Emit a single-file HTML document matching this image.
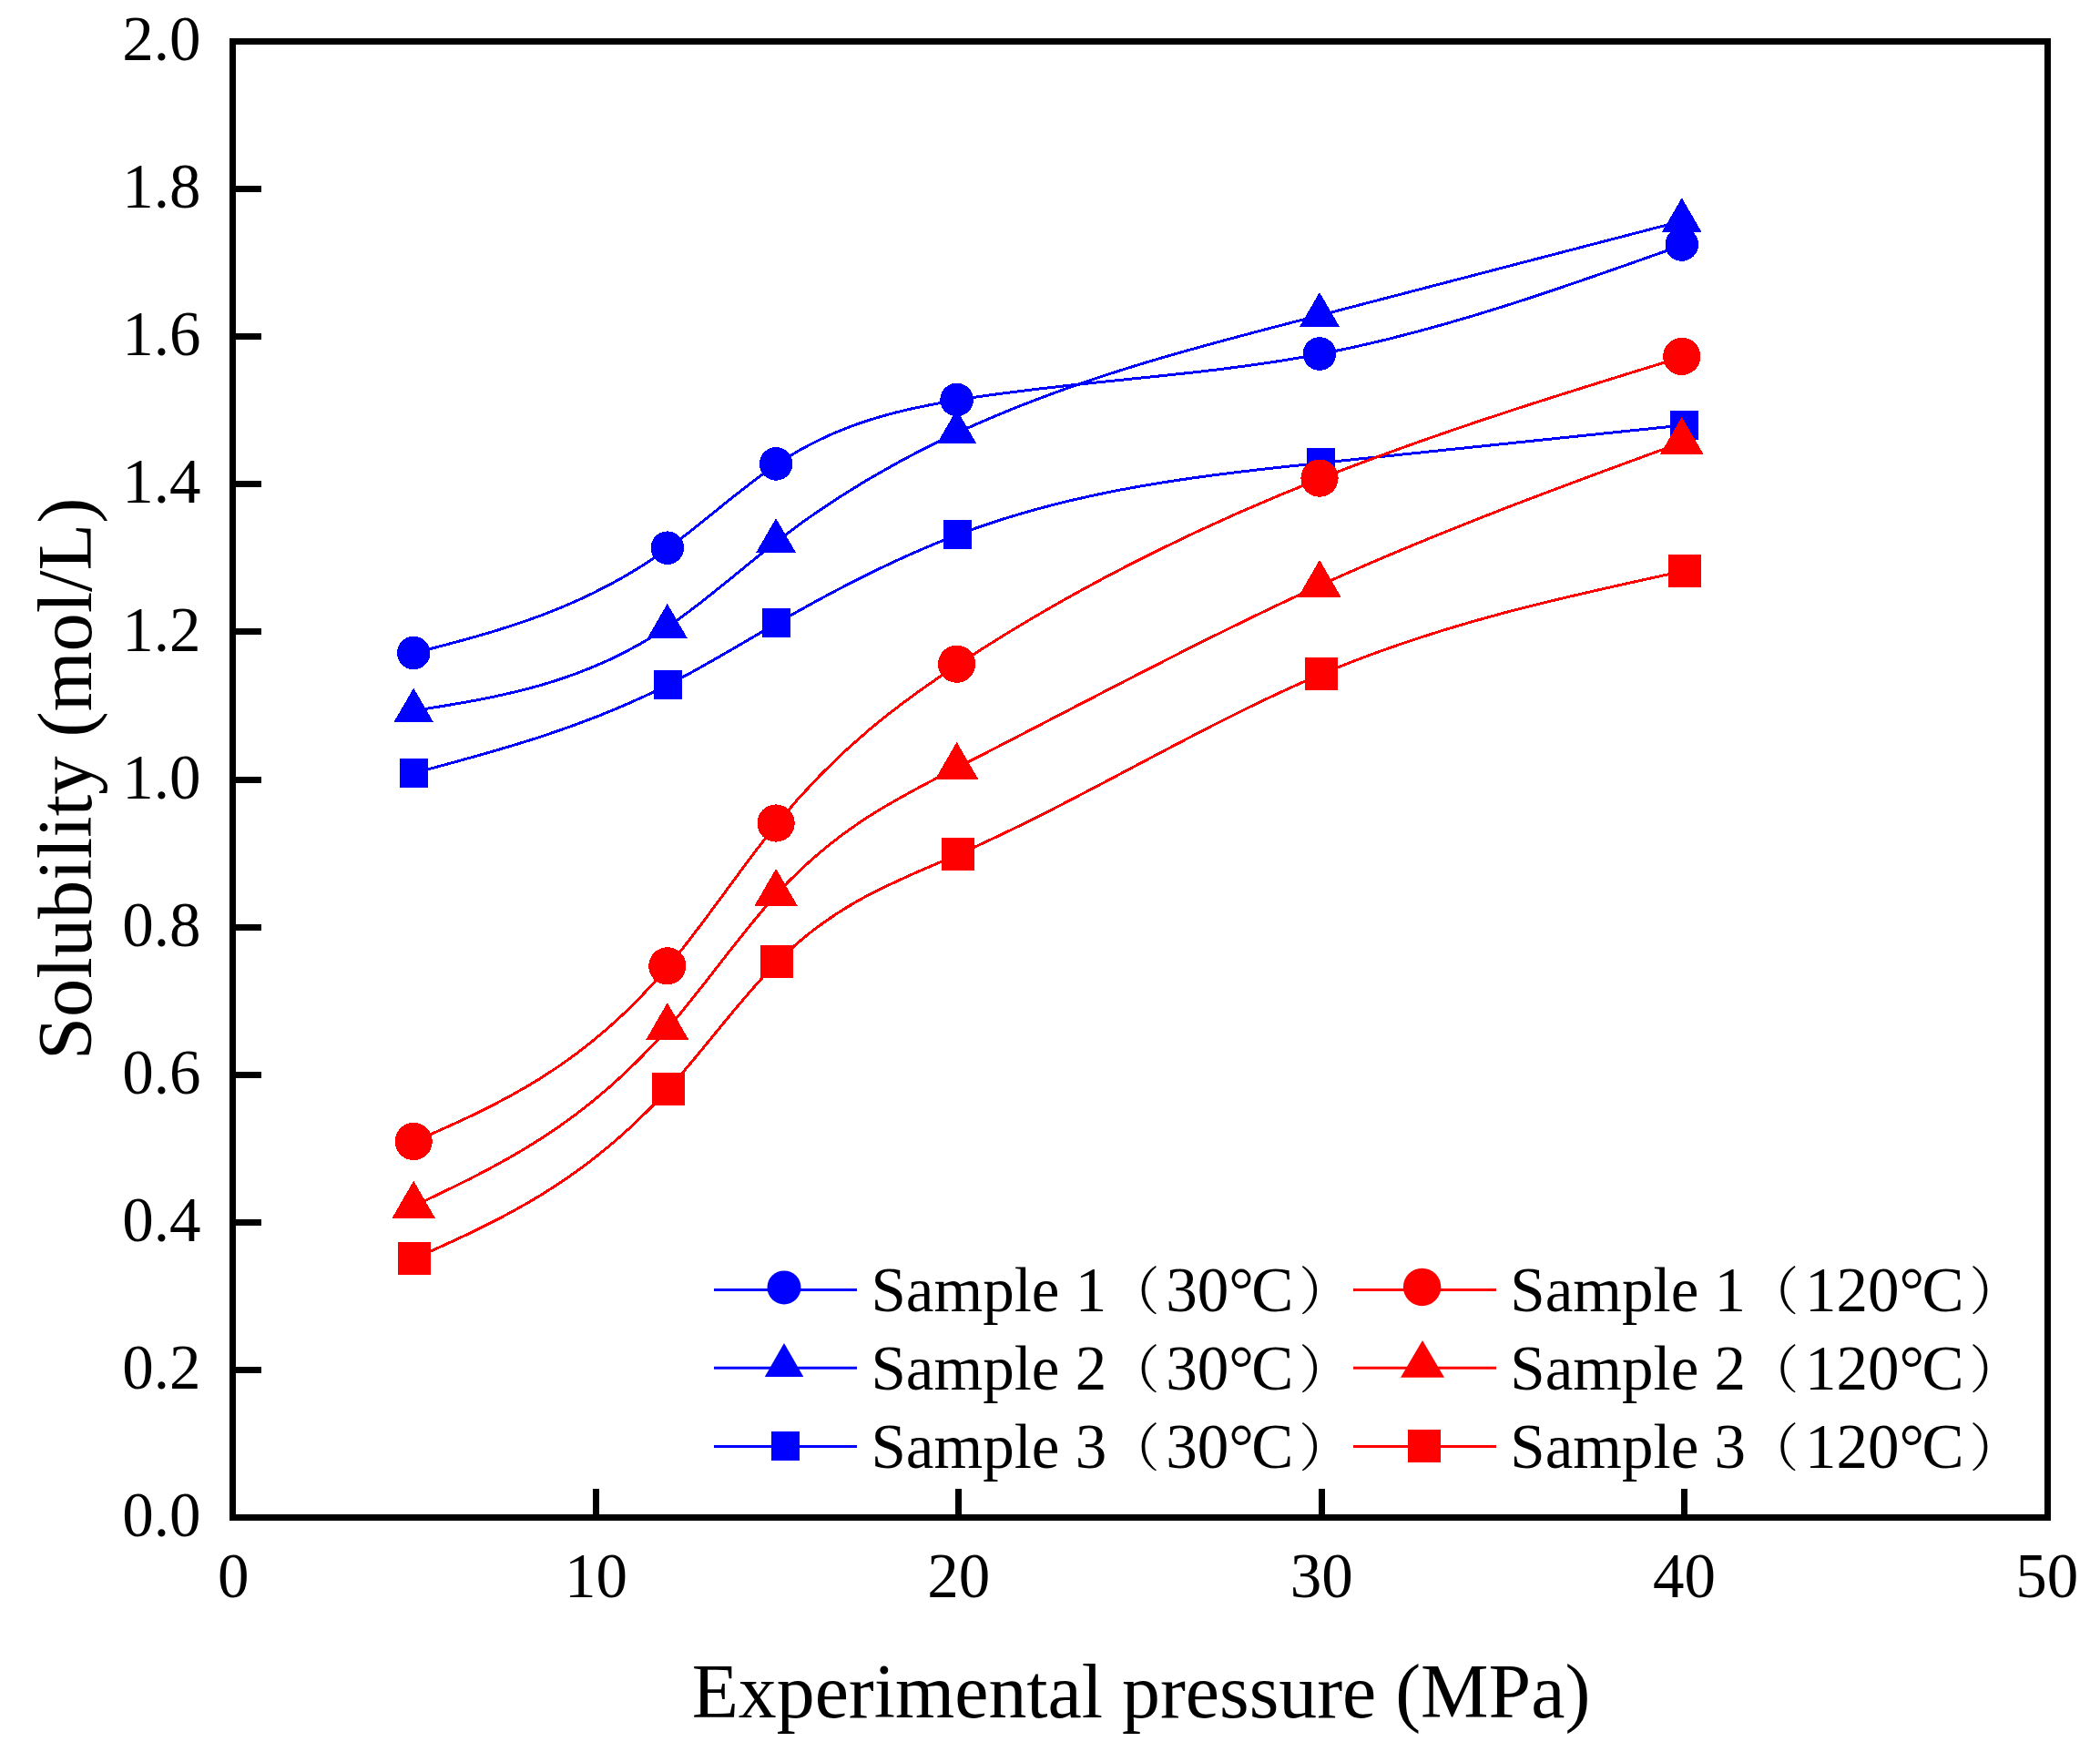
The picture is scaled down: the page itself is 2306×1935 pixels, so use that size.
<!DOCTYPE html>
<html lang="en"><head><meta charset="utf-8"><title>Solubility vs experimental pressure</title>
<style>html,body{margin:0;padding:0;background:#fff}body{width:2306px;height:1935px;overflow:hidden}svg{display:block}text{font-family:"Liberation Serif","Noto Serif CJK SC",serif;fill:#000}.tk{font-size:69px}.lg{font-size:69px}.ti{font-size:84.5px}.tx{font-size:83.8px}.pr{font-size:57px}</style></head><body>
<svg width="2306" height="1935" viewBox="0 0 2306 1935">
<rect width="2306" height="1935" fill="#fff"/>
<g fill="none" stroke-width="3" stroke-linecap="butt" shape-rendering="crispEdges">
<path d="M455.34 717 C548.28 693.06 641.22 669.13 734.17 601.7 C774 572.8 813.83 535.91 853.66 509.4 C920.05 465.21 986.44 449.83 1052.83 439 C1185.61 417.34 1318.38 413.88 1451.16 388.5 C1583.94 363.12 1716.71 315.81 1849.49 268.5" stroke="#0000ff"/>
<path d="M455.34 780.4 C548.28 765.63 641.22 750.87 734.17 687.8 C774 660.77 813.83 624.87 853.66 594 C920.05 542.55 986.44 505.06 1052.83 474.5 C1185.61 413.37 1318.38 379.92 1451.16 345.8 C1583.94 311.68 1716.71 276.89 1849.49 242.1" stroke="#0000ff"/>
<path d="M455.34 848.8 C548.28 823.99 641.22 799.19 734.17 751.8 C774 731.49 813.83 707.04 853.66 684.1 C920.05 645.87 986.44 611.86 1052.83 586.8 C1185.61 536.67 1318.38 522.32 1451.16 508.3 C1583.94 494.28 1716.71 480.59 1849.49 466.9" stroke="#0000ff"/>
<path d="M455.34 1253.5 C548.28 1212.6 641.22 1171.69 734.17 1060.8 C774 1013.27 813.83 952.89 853.66 904 C920.05 822.51 986.44 772.94 1052.83 729.2 C1185.61 641.71 1318.38 577.52 1451.16 525.1 C1583.94 472.68 1716.71 432.04 1849.49 391.4" stroke="#ff0000"/>
<path d="M455.34 1324 C548.28 1279.97 641.22 1235.94 734.17 1128.4 C774 1082.31 813.83 1024.56 853.66 981.1 C920.05 908.67 986.44 875.93 1052.83 842.1 C1185.61 774.43 1318.38 702.35 1451.16 642.1 C1583.94 581.85 1716.71 533.42 1849.49 485" stroke="#ff0000"/>
<path d="M455.34 1382 C548.28 1340.41 641.22 1298.82 734.17 1195.7 C774 1151.5 813.83 1096.01 853.66 1056.2 C920.05 989.85 986.44 967.09 1052.83 938 C1185.61 879.82 1318.38 796.35 1451.16 740.3 C1583.94 684.25 1716.71 655.63 1849.49 627" stroke="#ff0000"/>
</g>
<g shape-rendering="crispEdges">
<circle cx="454.2" cy="717" r="18.3" fill="#0000ff"/>
<circle cx="732.8" cy="601.7" r="18.3" fill="#0000ff"/>
<circle cx="852.1" cy="509.4" r="18.3" fill="#0000ff"/>
<circle cx="1050.6" cy="439" r="18.3" fill="#0000ff"/>
<circle cx="1449" cy="388.5" r="18.3" fill="#0000ff"/>
<circle cx="1846.8" cy="268.5" r="18.3" fill="#0000ff"/>
<polygon points="454.2,755.53 476,793.13 432.4,793.13" fill="#0000ff"/>
<polygon points="732.8,662.93 754.6,700.53 711,700.53" fill="#0000ff"/>
<polygon points="852.1,569.13 873.9,606.73 830.3,606.73" fill="#0000ff"/>
<polygon points="1050.6,449.63 1072.4,487.23 1028.8,487.23" fill="#0000ff"/>
<polygon points="1449,320.93 1470.8,358.53 1427.2,358.53" fill="#0000ff"/>
<polygon points="1846.8,217.23 1868.6,254.83 1825,254.83" fill="#0000ff"/>
<rect x="439" y="832.8" width="31" height="32" fill="#0000ff"/>
<rect x="717.8" y="735.8" width="31" height="32" fill="#0000ff"/>
<rect x="837.3" y="668.1" width="31" height="32" fill="#0000ff"/>
<rect x="1036.3" y="570.8" width="31" height="32" fill="#0000ff"/>
<rect x="1435.4" y="492.3" width="31" height="32" fill="#0000ff"/>
<rect x="1833.7" y="450.9" width="31" height="32" fill="#0000ff"/>
<circle cx="454.2" cy="1253.5" r="20.6" fill="#ff0000"/>
<circle cx="732.8" cy="1060.8" r="20.6" fill="#ff0000"/>
<circle cx="852.1" cy="904" r="20.6" fill="#ff0000"/>
<circle cx="1050.6" cy="729.2" r="20.6" fill="#ff0000"/>
<circle cx="1449" cy="525.1" r="20.6" fill="#ff0000"/>
<circle cx="1846.8" cy="391.4" r="20.6" fill="#ff0000"/>
<polygon points="454.2,1296.73 478,1337.93 430.4,1337.93" fill="#ff0000"/>
<polygon points="732.8,1101.13 756.6,1142.33 709,1142.33" fill="#ff0000"/>
<polygon points="852.1,953.83 875.9,995.03 828.3,995.03" fill="#ff0000"/>
<polygon points="1050.6,814.83 1074.4,856.03 1026.8,856.03" fill="#ff0000"/>
<polygon points="1449,614.83 1472.8,656.03 1425.2,656.03" fill="#ff0000"/>
<polygon points="1846.8,457.73 1870.6,498.93 1823,498.93" fill="#ff0000"/>
<rect x="437" y="1364" width="36" height="36" fill="#ff0000"/>
<rect x="715.8" y="1177.7" width="36" height="36" fill="#ff0000"/>
<rect x="835.3" y="1038.2" width="36" height="36" fill="#ff0000"/>
<rect x="1034.3" y="920" width="36" height="36" fill="#ff0000"/>
<rect x="1433.4" y="722.3" width="36" height="36" fill="#ff0000"/>
<rect x="1831.7" y="609" width="36" height="36" fill="#ff0000"/>
</g>
<rect x="255.5" y="45.5" width="1993" height="1621" fill="none" stroke="#000" stroke-width="7"/>
<path d="M255.5 1504.5 H287 M255.5 1342.5 H287 M255.5 1180.5 H287 M255.5 1018.5 H287 M255.5 856.5 H287 M255.5 693.5 H287 M255.5 531.5 H287 M255.5 369.5 H287 M255.5 207.5 H287 M654.5 1666.5 V1635 M1052.5 1666.5 V1635 M1451.5 1666.5 V1635 M1849.5 1666.5 V1635" stroke="#000" stroke-width="7" fill="none"/>
<g class="tk" text-anchor="end">
<text x="220.5" y="1687.1">0.0</text>
<text x="220.5" y="1525">0.2</text>
<text x="220.5" y="1362.9">0.4</text>
<text x="220.5" y="1200.8">0.6</text>
<text x="220.5" y="1038.7">0.8</text>
<text x="220.5" y="876.6">1.0</text>
<text x="220.5" y="714.5">1.2</text>
<text x="220.5" y="552.4">1.4</text>
<text x="220.5" y="390.3">1.6</text>
<text x="220.5" y="228.2">1.8</text>
<text x="220.5" y="66.1">2.0</text>
</g>
<g class="tk" text-anchor="middle">
<text x="256.17" y="1754">0</text>
<text x="654.5" y="1754">10</text>
<text x="1052.83" y="1754">20</text>
<text x="1451.16" y="1754">30</text>
<text x="1849.49" y="1754">40</text>
<text x="2247.82" y="1754">50</text>
</g>
<text class="ti tx" text-anchor="middle" x="1253" y="1886">Experimental pressure (MPa)</text>
<text class="ti" text-anchor="middle" transform="translate(100 855.3) rotate(-90)">Solubility (mol/L)</text>
<path d="M784 1416.5 H941" stroke="#0000ff" stroke-width="3" fill="none"/>
<path d="M784 1502.3 H941" stroke="#0000ff" stroke-width="3" fill="none"/>
<path d="M784 1588.4 H941" stroke="#0000ff" stroke-width="3" fill="none"/>
<circle cx="861" cy="1413.9" r="18.5" fill="#0000ff"/>
<polygon points="861,1474.9 882.3,1512 839.8,1512" fill="#0000ff"/>
<rect x="847" y="1572" width="31" height="32" fill="#0000ff"/>
<text class="lg" y="1440.2"><tspan x="956.5">Sample 1</tspan><tspan class="pr" x="1216.55" dy="-2">（</tspan><tspan x="1280.2" dy="2">30°<tspan dx="-2.5">C</tspan></tspan><tspan class="pr" x="1426.25" dy="-2">）</tspan></text>
<text class="lg" y="1526.2"><tspan x="956.5">Sample 2</tspan><tspan class="pr" x="1216.55" dy="-2">（</tspan><tspan x="1280.2" dy="2">30°<tspan dx="-2.5">C</tspan></tspan><tspan class="pr" x="1426.25" dy="-2">）</tspan></text>
<text class="lg" y="1612.2"><tspan x="956.5">Sample 3</tspan><tspan class="pr" x="1216.55" dy="-2">（</tspan><tspan x="1280.2" dy="2">30°<tspan dx="-2.5">C</tspan></tspan><tspan class="pr" x="1426.25" dy="-2">）</tspan></text>
<path d="M1486 1416.5 H1643" stroke="#ff0000" stroke-width="3" fill="none"/>
<path d="M1486 1502.3 H1643" stroke="#ff0000" stroke-width="3" fill="none"/>
<path d="M1486 1588.4 H1643" stroke="#ff0000" stroke-width="3" fill="none"/>
<circle cx="1561.6" cy="1413.4" r="20.75" fill="#ff0000"/>
<polygon points="1562,1472 1586,1512.8 1538,1512.8" fill="#ff0000"/>
<rect x="1546" y="1570" width="36" height="36" fill="#ff0000"/>
<text class="lg" y="1440.2"><tspan x="1658.3">Sample 1</tspan><tspan class="pr" x="1918.35" dy="-2">（</tspan><tspan x="1982" dy="2">120°<tspan dx="-2.5">C</tspan></tspan><tspan class="pr" x="2162.55" dy="-2">）</tspan></text>
<text class="lg" y="1526.2"><tspan x="1658.3">Sample 2</tspan><tspan class="pr" x="1918.35" dy="-2">（</tspan><tspan x="1982" dy="2">120°<tspan dx="-2.5">C</tspan></tspan><tspan class="pr" x="2162.55" dy="-2">）</tspan></text>
<text class="lg" y="1612.2"><tspan x="1658.3">Sample 3</tspan><tspan class="pr" x="1918.35" dy="-2">（</tspan><tspan x="1982" dy="2">120°<tspan dx="-2.5">C</tspan></tspan><tspan class="pr" x="2162.55" dy="-2">）</tspan></text>
</svg></body></html>
